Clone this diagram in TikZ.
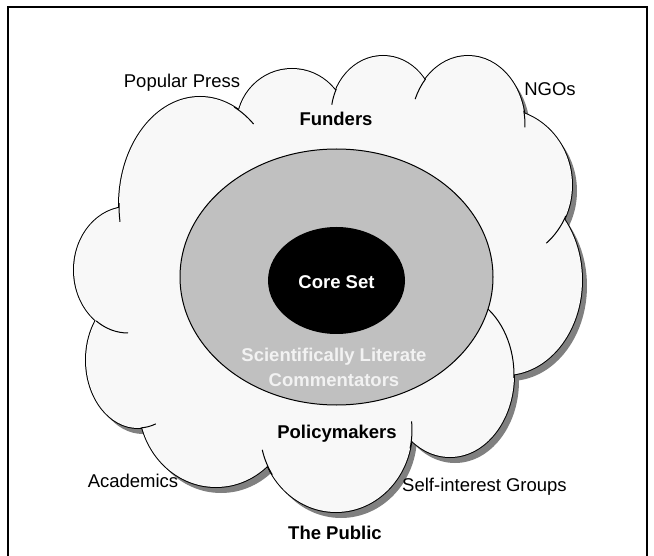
\documentclass[tikz,border=0pt]{standalone}
\usepackage{fontspec}
\setmainfont{Liberation Sans}
\definecolor{cloudfill}{HTML}{F8F8F8}
\definecolor{shadowc}{HTML}{808080}
\definecolor{ringc}{HTML}{C0C0C0}
\definecolor{lighttext}{HTML}{F2F2F2}
\tikzset{
  lbl/.style={anchor=base, inner sep=0pt, font=\fontsize{18.5}{24}\selectfont},
  blbl/.style={anchor=base, inner sep=0pt, font=\fontsize{18.5}{24}\selectfont\bfseries},
  hookline/.style={draw=black, line width=1pt},
}
\def\bumplist{200/205/81/108, 292/125/55/56, 383/115/52/59, 468/125/57/69, 500/185/72/76, 505/280/77/95, 450/375/64/82, 336/430/76/82, 216/404/77/83, 138/360/52/68, 128/270/54/63}
\def\centerpoly{(200,205) -- (292,125) -- (383,115) -- (468,125) -- (500,185) -- (505,280) -- (450,375) -- (336,430) -- (216,404) -- (138,360) -- (128,270) -- cycle}
\newcommand\hookarc[6]{\draw[hookline] (#1,#2) ++(#5:#3 and #4) arc[start angle=#5, end angle=#6, x radius=#3, y radius=#4];}
\begin{document}
\begin{tikzpicture}[x=1pt,y=-1pt]
\useasboundingbox (0,0) rectangle (654,556);
\clip (0,0) rectangle (654,556);
% frame
\draw[line width=2pt] (7.5,570) -- (7.5,7.5) -- (646.5,7.5) -- (646.5,570);
% shadow
\begin{scope}[shift={(5,6)}]
  \foreach \cx/\cy/\rx/\ry in \bumplist {\fill[shadowc] (\cx,\cy) ellipse[x radius=\rx, y radius=\ry];}
  \fill[shadowc] \centerpoly;
\end{scope}
% outline (outer half of stroke)
\foreach \cx/\cy/\rx/\ry in \bumplist {\draw[line width=2pt] (\cx,\cy) ellipse[x radius=\rx, y radius=\ry];}
% body fill
\foreach \cx/\cy/\rx/\ry in \bumplist {\fill[cloudfill] (\cx,\cy) ellipse[x radius=\rx, y radius=\ry];}
\fill[cloudfill] \centerpoly;
% inner hooks
\hookarc{200}{205}{81}{108}{181}{171}
\hookarc{200}{205}{81}{108}{295}{311.4}
\hookarc{383}{115}{52}{59}{190}{206}
\hookarc{468}{125}{57}{69}{202}{222}
\hookarc{468}{125}{57}{69}{348}{362}
\hookarc{500}{185}{72}{76}{24}{50}
\hookarc{450}{375}{64}{82}{300}{362}
\hookarc{336}{430}{76}{82}{-6}{13}
\hookarc{336}{430}{76}{82}{147}{166}
\hookarc{138}{360}{52}{68}{87}{70}
\hookarc{128}{270}{54}{63}{126}{90}
% ellipses
\filldraw[fill=ringc, draw=black, line width=1pt] (336.5,277) ellipse[x radius=156.5, y radius=128];
\fill[black] (336.5,280.5) ellipse[x radius=68.5, y radius=53.5];
% labels
\node[blbl, text=white] (core) at (336.5,289) {Core Set};
\node[blbl, text=lighttext] (sci) at (334,362) {Scientifically Literate};
\node[blbl, text=lighttext] (comm) at (334,386) {Commentators};
\node[blbl] (fund) at (336,126) {Funders};
\node[blbl] (pol) at (337,438.5) {Policymakers};
\node[blbl] (pub) at (335,539) {The Public};
\node[lbl] (press) at (182,88) {Popular Press};
\node[lbl] (ngo) at (550,96) {NGOs};
\node[lbl] (acad) at (133,487) {Academics};
\node[lbl] (self) at (484.5,491) {Self-interest Groups};
\end{tikzpicture}
\end{document}
